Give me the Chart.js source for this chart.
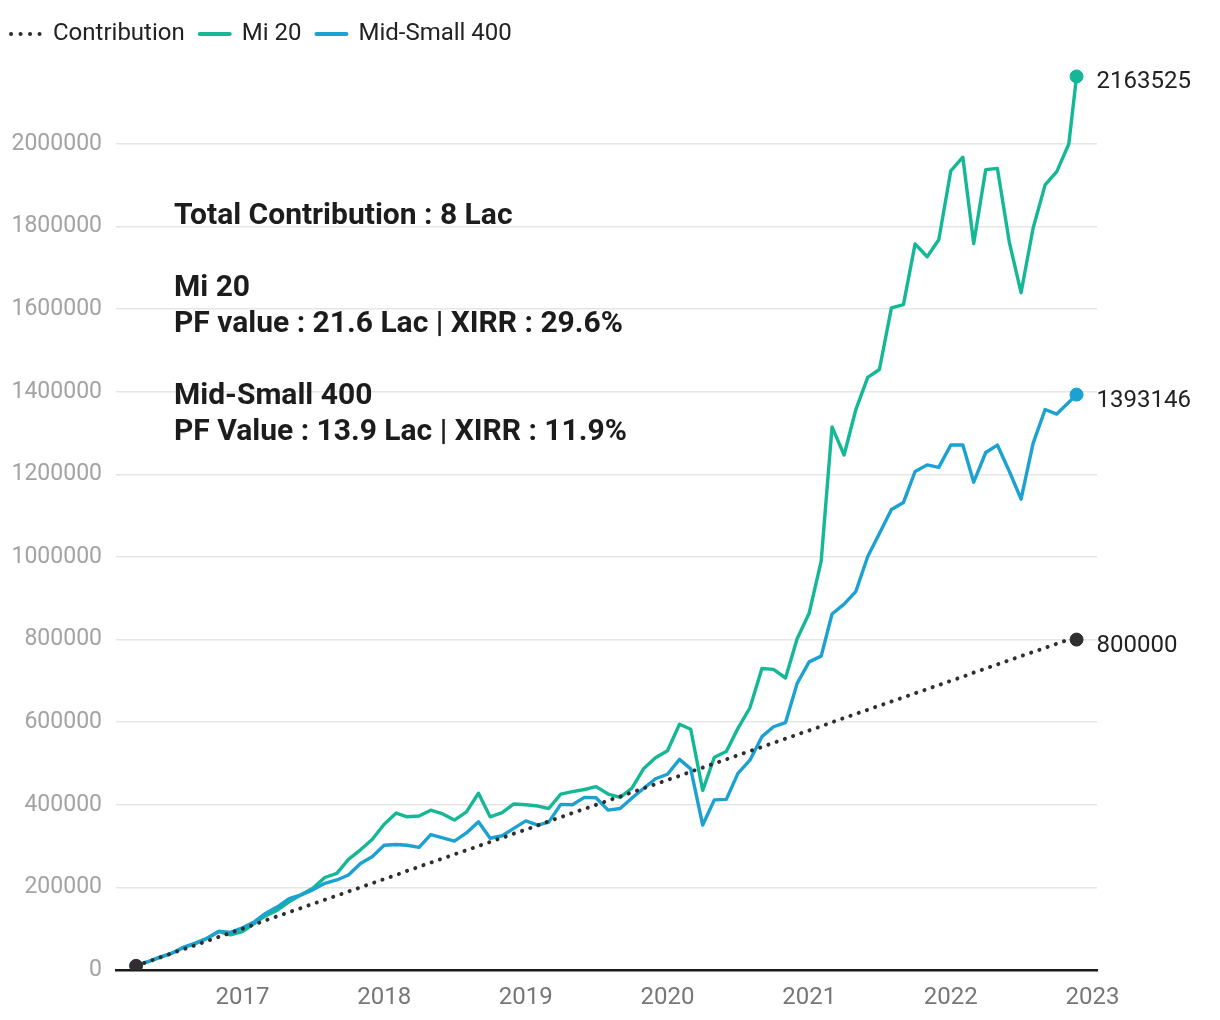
<!DOCTYPE html>
<html>
<head>
<meta charset="utf-8">
<script src="https://cdn.jsdelivr.net/npm/chart.js@4.4.0/dist/chart.umd.min.js"></script>
<style>
  html, body { margin: 0; padding: 0; background: #ffffff; }
  #wrap { position: relative; width: 1220px; height: 1020px; }
  #notes { position: absolute; left: 174px; top: 196px; font-family: Roboto, sans-serif; font-weight: 700;
           font-size: 30px; line-height: 36px; color: #1c1c1c; white-space: pre; pointer-events: none; }
  #notes div { height: 36px; }
</style>
</head>
<body>
<div id="wrap">
  <canvas id="c"></canvas>
  <div id="notes"></div>
</div>
<script>
// ---------------- DATA ----------------
const seriesNames = ['Contribution', 'Mi 20', 'Mid-Small 400'];

const dates = [
  '2016-04-01','2016-05-01','2016-06-01','2016-07-01','2016-08-01','2016-09-01','2016-10-01','2016-11-01','2016-12-01',
  '2017-01-01','2017-02-01','2017-03-01','2017-04-01','2017-05-01','2017-06-01','2017-07-01','2017-08-01','2017-09-01','2017-10-01','2017-11-01','2017-12-01',
  '2018-01-01','2018-02-01','2018-03-01','2018-04-01','2018-05-01','2018-06-01','2018-07-01','2018-08-01','2018-09-01','2018-10-01','2018-11-01','2018-12-01',
  '2019-01-01','2019-02-01','2019-03-01','2019-04-01','2019-05-01','2019-06-01','2019-07-01','2019-08-01','2019-09-01','2019-10-01','2019-11-01','2019-12-01',
  '2020-01-01','2020-02-01','2020-03-01','2020-04-01','2020-05-01','2020-06-01','2020-07-01','2020-08-01','2020-09-01','2020-10-01','2020-11-01','2020-12-01',
  '2021-01-01','2021-02-01','2021-03-01','2021-04-01','2021-05-01','2021-06-01','2021-07-01','2021-08-01','2021-09-01','2021-10-01','2021-11-01','2021-12-01',
  '2022-01-01','2022-02-01','2022-03-01','2022-04-01','2022-05-01','2022-06-01','2022-07-01','2022-08-01','2022-09-01','2022-10-01','2022-11-01',
  '2022-11-21'
];

const contribution = [
  10000,20000,30000,40000,50000,60000,70000,80000,90000,
  100000,110000,120000,130000,140000,150000,160000,170000,180000,190000,200000,210000,
  220000,230000,240000,250000,260000,270000,280000,290000,300000,310000,320000,330000,
  340000,350000,360000,370000,380000,390000,400000,410000,420000,430000,440000,450000,
  460000,470000,480000,490000,500000,510000,520000,530000,540000,550000,560000,570000,
  580000,590000,600000,610000,620000,630000,640000,650000,660000,670000,680000,690000,
  700000,710000,720000,730000,740000,750000,760000,770000,780000,790000,800000,
  800000
];

const mi20 = [
  10000,20000,30000,40000,54000,64000,76000,93000,85000,
  93000,113000,131000,145000,165000,182000,198000,224000,234000,268000,291000,316000,
  353000,380000,371000,373000,387000,378000,363000,383000,428000,371000,381000,402000,
  400000,397000,391000,426000,432000,437000,444000,426000,418000,440000,488000,514000,
  531000,595000,583000,435000,515000,529000,585000,635000,730000,728000,707000,802000,
  864000,990000,1315000,1247000,1356000,1435000,1454000,1603000,1611000,1758000,1727000,1768000,
  1935000,1968000,1759000,1938000,1941000,1761000,1640000,1796000,1901000,1933000,2000000,
  2163525
];

const midSmall400 = [
  10000,20000,31000,40000,55000,65000,77000,94000,91000,
  102000,117000,137000,153000,173000,182000,194000,210000,218000,230000,258000,274000,
  302000,304000,302000,297000,328000,320000,312000,332000,359000,319000,325000,343000,
  361000,351000,358000,401000,400000,418000,417000,387000,391000,416000,440000,463000,
  474000,510000,487000,351000,412000,413000,476000,508000,565000,589000,599000,694000,
  746000,760000,862000,886000,916000,1001000,1057000,1115000,1132000,1207000,1223000,1217000,
  1271000,1271000,1181000,1253000,1271000,1207000,1140000,1275000,1357000,1346000,null,
  1393146
];

const yearTicks = [2017, 2018, 2019, 2020, 2021, 2022, 2023];
const valueTicks = [0, 200000, 400000, 600000, 800000, 1000000, 1200000, 1400000, 1600000, 1800000, 2000000];

const notes = [
  'Total Contribution : 8 Lac',
  '',
  'Mi 20',
  'PF value : 21.6 Lac | XIRR : 29.6%',
  '',
  'Mid-Small 400',
  'PF Value : 13.9 Lac | XIRR : 11.9%'
];

// ---------------- HELPERS ----------------
function toYear(s) {
  const [y, m, d] = s.split('-').map(Number);
  const a = Date.UTC(y, 0, 1), b = Date.UTC(y + 1, 0, 1);
  return y + (Date.UTC(y, m - 1, d) - a) / (b - a);
}
function toPoints(values) {
  return values.map((v, i) => ({ x: toYear(dates[i]), y: v }));
}

const X_MIN = 2016.107, X_MAX = 2023.032;
const Y_MAX = 2213000;

const COLORS = { contribution: '#2f2f2f', mi20: '#14b896', mid: '#1ba1d2' };
const FONT = 'Roboto, "Noto Sans", sans-serif';

document.getElementById('notes').innerHTML = notes.map(t => '<div>' + (t || '&nbsp;') + '</div>').join('');

const lastRadius = (ctx) => ctx.dataIndex === ctx.dataset.data.length - 1 ? 6.5 : 0;
const endsRadius = (ctx) => (ctx.dataIndex === 0 || ctx.dataIndex === ctx.dataset.data.length - 1) ? 6.5 : 0;

const endLabels = {
  id: 'endLabels',
  afterDatasetsDraw(chart) {
    const ctx = chart.ctx;
    ctx.save();
    ctx.font = '24px ' + FONT;
    ctx.fillStyle = '#222222';
    ctx.textAlign = 'left';
    ctx.textBaseline = 'middle';
    chart.data.datasets.forEach((ds, i) => {
      const meta = chart.getDatasetMeta(i);
      const el = meta.data[meta.data.length - 1];
      const v = ds.data[ds.data.length - 1].y;
      ctx.fillText(String(v), el.x + 20, el.y + 6);
    });
    ctx.restore();
  }
};

new Chart(document.getElementById('c'), {
  type: 'line',
  data: {
    datasets: [
      {
        label: seriesNames[0], data: toPoints(contribution), order: 0,
        borderColor: COLORS.contribution, backgroundColor: COLORS.contribution,
        borderWidth: 4, borderDash: [0.1, 8.6], borderCapStyle: 'round', tension: 0, fill: false,
        pointRadius: endsRadius, pointBackgroundColor: COLORS.contribution, pointBorderColor: COLORS.contribution, pointBorderWidth: 1
      },
      {
        label: seriesNames[1], data: toPoints(mi20), order: 2,
        borderColor: COLORS.mi20, backgroundColor: COLORS.mi20,
        borderWidth: 3.4, borderCapStyle: 'round', borderJoinStyle: 'round', tension: 0, fill: false,
        pointRadius: lastRadius, pointBackgroundColor: COLORS.mi20, pointBorderColor: COLORS.mi20, pointBorderWidth: 1
      },
      {
        label: seriesNames[2], data: toPoints(midSmall400), order: 1, spanGaps: true,
        borderColor: COLORS.mid, backgroundColor: COLORS.mid,
        borderWidth: 3.4, borderCapStyle: 'round', borderJoinStyle: 'round', tension: 0, fill: false,
        pointRadius: lastRadius, pointBackgroundColor: COLORS.mid, pointBorderColor: COLORS.mid, pointBorderWidth: 1
      }
    ]
  },
  options: {
    responsive: true,
    maintainAspectRatio: false,
    animation: false,
    events: [],
    layout: { padding: { top: 7, right: 123, bottom: 0, left: -4 } },
    plugins: {
      legend: {
        position: 'top', align: 'start',
        labels: {
          usePointStyle: true, pointStyle: 'line', pointStyleWidth: 30,
          color: '#222222', font: { family: FONT, size: 24 }, padding: 15,
          sort: (a, b) => a.datasetIndex - b.datasetIndex,
          generateLabels(chart) {
            const items = Chart.defaults.plugins.legend.labels.generateLabels(chart);
            return items.map(it => {
              const ds = chart.data.datasets[it.datasetIndex];
              return Object.assign(it, {
                pointStyle: 'line', lineWidth: 4, lineCap: 'round',
                lineDash: ds.borderDash ? [0.1, 9.4] : [],
                strokeStyle: ds.borderColor, fillStyle: ds.borderColor
              });
            });
          }
        }
      },
      tooltip: { enabled: false }
    },
    scales: {
      x: {
        type: 'linear', min: X_MIN, max: X_MAX,
        afterBuildTicks: (s) => { s.ticks = yearTicks.map(v => ({ value: v })); },
        afterFit: (s) => { s.height = 50; },
        grid: { display: false },
        border: { display: true, color: '#1a1a1a', width: 2.5 },
        ticks: { color: '#777777', font: { family: FONT, size: 24 }, padding: 6, maxRotation: 0, autoSkip: false,
                 callback: (v) => String(v) }
      },
      y: {
        min: 0, max: Y_MAX,
        afterBuildTicks: (s) => { s.ticks = valueTicks.map(v => ({ value: v })); },
        afterFit: (s) => { s.width = 120; },
        grid: { color: '#e6e6e6', lineWidth: 1.5, drawTicks: false },
        border: { display: false },
        ticks: { color: '#a3a3a3', font: { family: FONT, size: 23 }, padding: 14, callback: (v) => String(v) }
      }
    }
  },
  plugins: [endLabels]
});
</script>
</body>
</html>
